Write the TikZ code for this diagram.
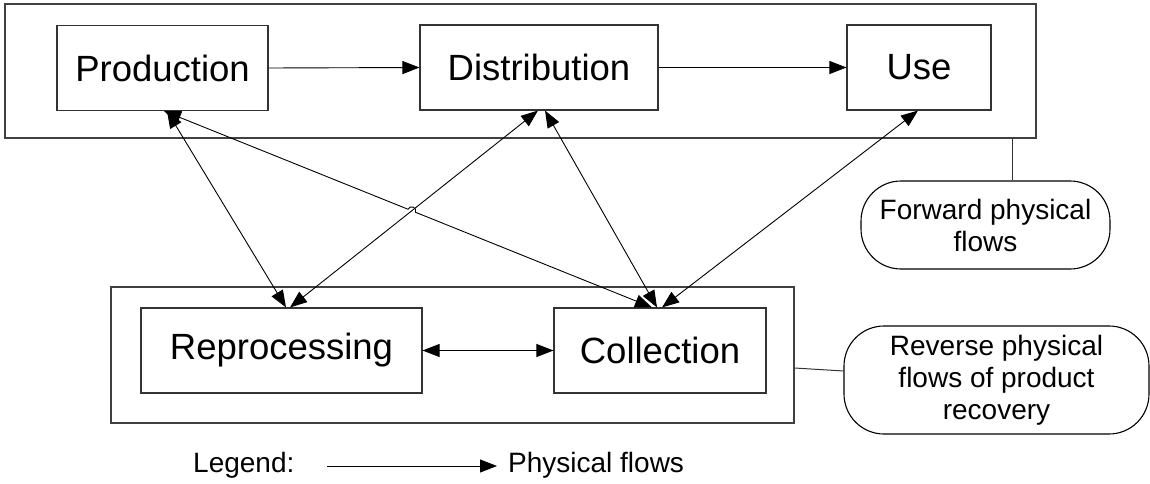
\documentclass[tikz,border=0pt]{standalone}
\usepackage{fontspec}
\setmainfont{Liberation Sans}
\usetikzlibrary{arrows.meta,calc,intersections}

\tikzset{
  head/.tip={Triangle[length=17pt,width=13pt]},
  frame/.style={draw=black!75, line width=1.1pt, inner sep=0pt},
  stage/.style={draw=black!80, line width=1.1pt, inner sep=0pt, minimum height=85pt,
                font=\fontsize{36.5}{42}\selectfont},
  callout/.style={draw=black, line width=1.1pt, rounded corners=40pt, inner sep=0pt,
                  align=center, font=\fontsize{28}{32}\selectfont},
  link/.style={draw=black!80, line width=1pt},
  oneway/.style={line width=0.9pt, -{head}},
  twoway/.style={line width=0.9pt, {head}-{head}},
  label/.style={inner sep=0pt, anchor=west, font=\fontsize{28}{32}\selectfont}
}

\begin{document}
\begin{tikzpicture}[x=1pt,y=-1pt]
  \useasboundingbox (0,0) rectangle (1150,484);

  % enclosing frames
  \node[frame, minimum width=1031pt, minimum height=134pt] (fwdframe) at (520.5,71) {};
  \node[frame, minimum width=683pt, minimum height=136pt] (revframe) at (452.5,355) {};

  % forward chain
  \node[stage, minimum width=211pt] (prod) at (162.5,68) {Production};
  \node[stage, minimum width=238pt] (dist) at (539,67.5) {Distribution};
  \node[stage, minimum width=144pt] (use)  at (919,67.5) {Use};

  % reverse chain
  \node[stage, minimum width=281pt] (repr) at (281.5,350.5) {Reprocessing};
  \node[stage, minimum width=212pt] (coll) at (660,350.5) {Collection};

  % callouts
  \node[callout, minimum width=249pt, minimum height=88pt] (fcall) at (985.5,225)
    {Forward physical\\flows};
  \node[callout, minimum width=305pt, minimum height=108pt] (rcall) at (996.5,380)
    {Reverse physical\\flows of product\\recovery};

  \draw[link] ([xshift=26.5pt]fcall.north) -- ([xshift=26.5pt]fcall.north |- fwdframe.south);
  \draw[link] ([yshift=-13pt]revframe.east) -- ([yshift=9pt]rcall.west);

  % forward flows
  \draw[oneway] (prod.east) -- (dist.west);
  \draw[oneway] (dist.east) -- (use.west);
  \draw[twoway] (repr.east) -- (coll.west);

  % end points of the return flows
  \coordinate (prA) at ([xshift=4.5pt]prod.south);
  \coordinate (prB) at ([xshift=4.5pt]repr.north);
  \coordinate (pcA) at ([xshift=1.5pt]prod.south);
  \coordinate (pcB) at ([xshift=-8pt]coll.north);
  \coordinate (drA) at ([xshift=-1pt]dist.south);
  \coordinate (drB) at ([xshift=8.5pt]repr.north);
  \coordinate (dcA) at ([xshift=6pt]dist.south);
  \coordinate (dcB) at ([xshift=-3pt]coll.north);
  \coordinate (ucA) at ([xshift=-1pt]use.south);
  \coordinate (ucB) at ([xshift=2pt]coll.north);

  \draw[twoway] (prA) -- (prB);
  \draw[twoway, name path=drpath] (drA) -- (drB);
  \draw[twoway] (dcA) -- (dcB);
  \draw[twoway] (ucA) -- (ucB);

  % production-collection line jumps over the distribution-reprocessing line
  \path[name path=pcpath] (pcA) -- (pcB);
  \path[name intersections={of=pcpath and drpath, by=hop}];
  \draw[twoway] let \p1=($(pcB)-(pcA)$), \n1={atan2(\y1,\x1)} in
    (pcA) -- ($(hop)!4pt!(pcA)$) arc[start angle=\n1+180, delta angle=-180, radius=4pt] -- (pcB);

  % legend
  \node[label] (legend) at (193,465) {Legend:};
  \coordinate (legA) at (327,466);
  \coordinate (legB) at (497,466);
  \draw[oneway] (legA) -- (legB);
  \node[label] (legtext) at (508,465) {Physical flows};
\end{tikzpicture}
\end{document}
